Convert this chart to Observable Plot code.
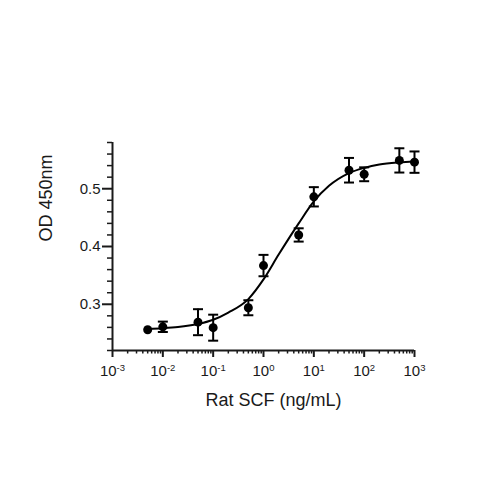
<!DOCTYPE html>
<html>
<head>
<meta charset="utf-8">
<script src="https://cdn.jsdelivr.net/npm/d3@7"></script>
<script src="https://cdn.jsdelivr.net/npm/@observablehq/plot@0.6"></script>
<style>
  body { margin: 0; background: #fff; }
  #chart { width: 500px; height: 500px; }
</style>
</head>
<body>
<div id="chart"></div>
<script>
// Measured points (Rat SCF concentration, ng/mL)
const concentration = [0.005, 0.01, 0.05, 0.1, 0.5, 1, 5, 10, 50, 100, 500, 1000];
const od450 = [0.256, 0.261, 0.269, 0.2595, 0.294, 0.367, 0.420, 0.486, 0.532, 0.525, 0.549, 0.546];
const errorBar = [0, 0.009, 0.0225, 0.0225, 0.013, 0.0185, 0.0115, 0.0167, 0.0213, 0.012, 0.021, 0.0185];

// Fitted curve
const fitConcentration = [0.005, 0.01, 0.02, 0.05, 0.1, 0.2, 0.5, 1, 2, 5, 10, 20, 50, 100, 200, 500, 1000];
const fitOd = [0.2574, 0.2586, 0.2606, 0.2659, 0.2733, 0.2857, 0.309, 0.343, 0.386, 0.440, 0.478, 0.505, 0.527, 0.536, 0.542, 0.5457, 0.5472];

// Axis ticks
const xMajorTicks = [1e-3, 1e-2, 1e-1, 1, 10, 100, 1000];
const xTickExponents = ["-3", "-2", "-1", "0", "1", "2", "3"];
const xMinorTicks = [];
for (let d = -3; d < 3; d++) for (let k = 2; k <= 9; k++) xMinorTicks.push(k * Math.pow(10, d));
const yMajorTicks = [0.3, 0.4, 0.5];
const yMinorTicks = [0.22, 0.24, 0.26, 0.28, 0.32, 0.34, 0.36, 0.38, 0.42, 0.44, 0.46, 0.48, 0.52, 0.54, 0.56, 0.58];

const xTitle = "Rat SCF (ng/mL)";
const yTitle = "OD 450nm";

const points = concentration.map((x, i) => ({x, y: od450[i], e: errorBar[i]}));
const errPoints = points.filter(d => d.e > 0);
const fit = fitConcentration.map((x, i) => ({x, y: fitOd[i]}));

const capSymbol = {
  draw(context, size) {
    const r = Math.sqrt(size / Math.PI);
    context.moveTo(-r, 0);
    context.lineTo(r, 0);
  }
};

const chart = Plot.plot({
  width: 500,
  height: 500,
  marginLeft: 112,
  marginRight: 86,
  marginTop: 142,
  marginBottom: 150,
  style: {fontFamily: "'Liberation Sans', Arial, sans-serif", color: "#1a1a1a", background: "#fff"},
  x: {type: "log", domain: [1e-3, 1e3]},
  y: {domain: [0.22, 0.58]},
  marks: [
    Plot.axisX({ticks: xMinorTicks, tickSize: 3.5, tickFormat: () => "", strokeWidth: 1.5, label: null}),
    Plot.axisX({ticks: xMajorTicks, tickSize: 7, tickPadding: 8, strokeWidth: 2, label: null, fontSize: 15,
      tickFormat: d => "10^" + xTickExponents[xMajorTicks.indexOf(d)]}),
    Plot.axisY({ticks: yMinorTicks, tickSize: 5, tickFormat: () => "", strokeWidth: 1.5, label: null}),
    Plot.axisY({ticks: yMajorTicks, tickSize: 10, tickPadding: 2, strokeWidth: 2, label: null, fontSize: 15,
      tickFormat: d => d.toFixed(1)}),
    Plot.ruleY([0.22], {strokeWidth: 2}),
    Plot.ruleX([1e-3], {strokeWidth: 2}),
    Plot.text([xTitle], {frameAnchor: "bottom", dy: 55, dx: 10, fontSize: 18, fill: "#1a1a1a"}),
    Plot.text([yTitle], {frameAnchor: "left", dx: -66, dy: -5, rotate: -90, fontSize: 18, fill: "#1a1a1a"}),
    Plot.line(fit, {x: "x", y: "y", curve: "monotone-x", strokeWidth: 2, stroke: "black"}),
    Plot.ruleX(errPoints, {x: "x", y1: d => d.y - d.e, y2: d => d.y + d.e, strokeWidth: 2, stroke: "black"}),
    Plot.dot(errPoints, {x: "x", y: d => d.y + d.e, symbol: capSymbol, r: 5, stroke: "black", strokeWidth: 2, fill: "none"}),
    Plot.dot(errPoints, {x: "x", y: d => d.y - d.e, symbol: capSymbol, r: 5, stroke: "black", strokeWidth: 2, fill: "none"}),
    Plot.dot(points, {x: "x", y: "y", r: 4.5, fill: "black", stroke: "none"})
  ]
});

// Render exponents as superscripts
chart.querySelectorAll('g[aria-label="x-axis tick label"] text').forEach(t => {
  const s = t.textContent;
  if (!s.includes("^")) return;
  const [base, exp] = s.split("^");
  t.textContent = base;
  const sup = document.createElementNS("http://www.w3.org/2000/svg", "tspan");
  sup.setAttribute("dy", "-5");
  sup.setAttribute("font-size", "9.5");
  sup.textContent = exp;
  t.appendChild(sup);
});

document.getElementById("chart").append(chart);
</script>
</body>
</html>
